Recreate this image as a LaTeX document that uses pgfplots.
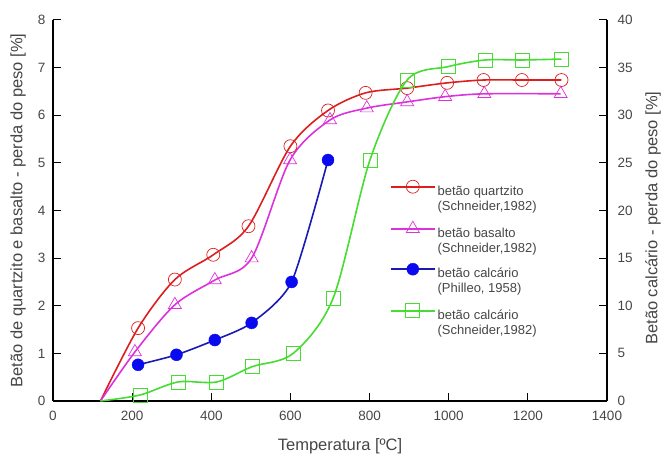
\documentclass[border=0pt]{standalone}
\usepackage{fontspec}
\setmainfont{Liberation Sans}
\usepackage{pgfplots}
\pgfplotsset{compat=1.18}
\definecolor{cred}{RGB}{220,30,30}
\definecolor{cmag}{RGB}{220,50,220}
\definecolor{cblue}{RGB}{25,25,180}
\definecolor{cbluem}{RGB}{10,10,240}
\definecolor{cgreen}{RGB}{70,220,50}
\definecolor{ctext}{RGB}{70,70,70}
\pgfplotsset{
  common/.style={
    scale only axis, width=554pt, height=381pt,
    xmin=0, xmax=1400,
    axis line style={line width=2pt, black},
    tick align=inside, major tick length=8pt,
    tick style={line width=1pt, black},
    ticklabel style={font=\fontsize{13.5}{15}\selectfont, text=ctext},
    label style={font=\fontsize{16.5}{18}\selectfont, text=ctext},
    /pgf/number format/assume math mode=true,
    /pgf/number format/1000 sep={},
    clip=false,
  },
  legend image code/.code={
    \draw[#1, line width=1.6pt] (0pt,4pt) -- (44pt,4pt);
    \draw[#1, only marks] plot coordinates {(22pt,4pt)};
  },
}
\begin{document}
\begin{tikzpicture}
\begin{axis}[common,
  ymin=0, ymax=8,
  axis x line*=bottom, axis y line*=left,
  xtick={0,200,...,1400}, ytick={0,1,...,8},
  xticklabel style={yshift=-7pt},
  yticklabel style={xshift=-4pt},
  xlabel={Temperatura [ºC]},
  xlabel style={at={(axis description cs:0.518,-0.118)}, anchor=center},
  ylabel={Betão de quartzito e basalto - perda do peso [\%]},
  ylabel style={at={(axis description cs:-0.063,0.5)}, anchor=center},
]
% quartzito
\addplot[cred, line width=1.6pt, smooth] coordinates {
 (120,0) (215,1.53) (308,2.55) (405,3.07) (494,3.67) (600,5.35) (695,6.10) (790,6.47) (895,6.57) (996,6.68) (1088,6.74) (1185,6.74) (1285,6.74)};
\addplot[only marks, mark=o, mark size=6.5pt, draw=cred, line width=0.7pt] coordinates {
 (215,1.53) (308,2.55) (405,3.07) (494,3.67) (600,5.35) (695,6.10) (790,6.47) (895,6.57) (996,6.68) (1088,6.74) (1185,6.74) (1285,6.74)};
% basalto
\addplot[cmag, line width=1.6pt, smooth] coordinates {
 (120,0) (207,1.03) (308,2.02) (409,2.54) (502,3.00) (599,5.06) (700,5.90) (793,6.15) (895,6.28) (991,6.39) (1090,6.45) (1283,6.45)};
\addplot[only marks, mark=triangle, mark size=7.5pt, draw=cmag, line width=0.7pt] coordinates {
 (207,1.03) (308,2.02) (409,2.54) (502,3.00) (599,5.06) (700,5.90) (793,6.15) (895,6.28) (991,6.39) (1090,6.45) (1283,6.45)};
% calcario Philleo
\addplot[cblue, line width=1.6pt, smooth, tension=0.4] coordinates {
 (215,0.76) (312,0.97) (409,1.28) (502,1.64) (603,2.50) (695,5.06)};
\addplot[only marks, mark=*, mark size=6pt, draw=cbluem, fill=cbluem] coordinates {
 (215,0.76) (312,0.97) (409,1.28) (502,1.64) (603,2.50) (695,5.06)};
\end{axis}
\begin{axis}[common,
  ymin=0, ymax=40,
  axis x line=none, axis y line*=right,
  ytick={0,5,...,40},
  yticklabel style={xshift=7pt},
  ylabel={Betão calcário - perda do peso [\%]},
  ylabel style={at={(axis description cs:1.083,0.48)}, anchor=center},
  legend style={at={(axis description cs:0.608,0.58)}, anchor=north west,
    draw=none, fill=none, inner sep=0pt, row sep=22.5pt,
    font=\fontsize{13}{15}\selectfont, text=ctext,
    nodes={inner sep=2pt}},
  legend cell align=left,
]
\addlegendimage{cred, mark=o, mark size=6.5pt, mark options={line width=0.7pt, fill=white}}
\addlegendentry{\begin{tabular}[t]{@{}l@{}}betão quartzito\\(Schneider,1982)\end{tabular}}
\addlegendimage{cmag, mark=triangle, mark size=7.5pt, mark options={line width=0.7pt, fill=white}}
\addlegendentry{\begin{tabular}[t]{@{}l@{}}betão basalto\\(Schneider,1982)\end{tabular}}
\addlegendimage{cblue, mark=*, mark size=6pt, mark options={draw=cbluem, fill=cbluem}}
\addlegendentry{\begin{tabular}[t]{@{}l@{}}betão calcário\\(Philleo, 1958)\end{tabular}}
\addlegendimage{cgreen, mark=square, mark size=7pt, mark options={line width=0.7pt, fill=white}}
\addlegendentry{\begin{tabular}[t]{@{}l@{}}betão calcário\\(Schneider,1982)\end{tabular}}
% calcario Schneider
\addplot[cgreen, line width=1.6pt, smooth, forget plot] coordinates {
 (120,0) (220,0.63) (316,2.0) (414,2.0) (503,3.6) (607,5.0) (708,10.8) (801,25.3) (895,33.7) (998,35.1) (1092,35.8) (1185,35.8) (1285,35.9)};
\addplot[only marks, mark=square, mark size=7pt, draw=cgreen, line width=0.7pt, forget plot] coordinates {
 (220,0.63) (316,2.0) (414,2.0) (503,3.6) (607,5.0) (708,10.8) (801,25.3) (895,33.7) (998,35.1) (1092,35.8) (1185,35.8) (1285,35.9)};
\end{axis}
\pgfresetboundingbox
\path (-53pt,-56pt) rectangle (614pt,401pt);
\end{tikzpicture}
\end{document}
